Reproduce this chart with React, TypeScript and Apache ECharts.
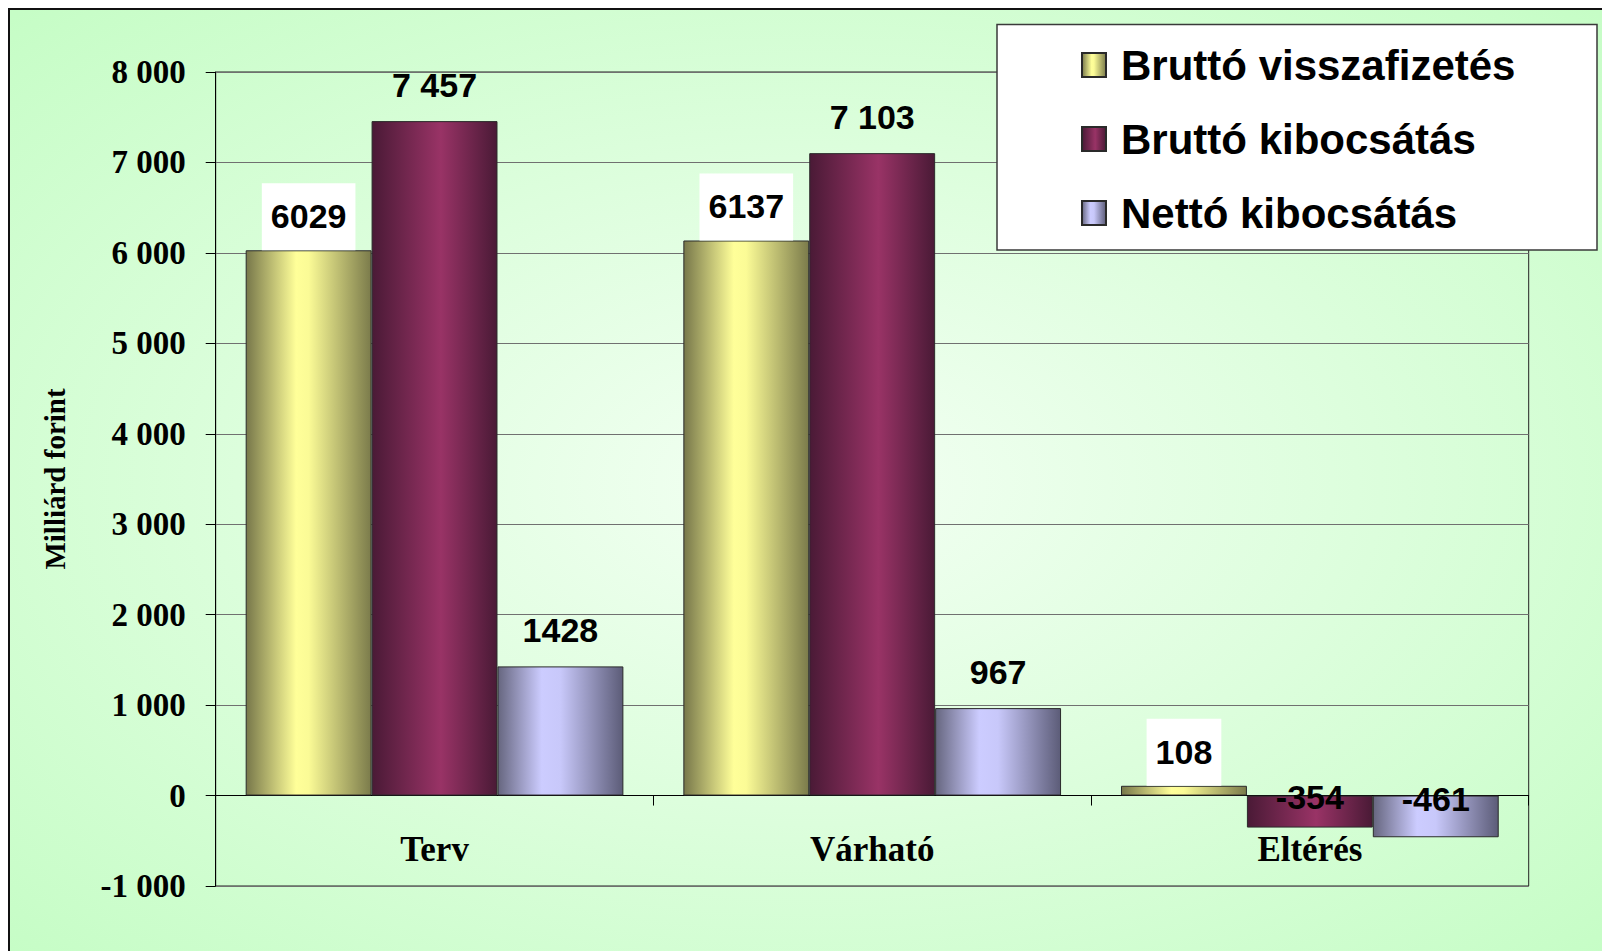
import React, { useEffect, useRef } from "react";
import * as echarts from "echarts";

const categories = ["Terv", "Várható", "Eltérés"];
const seriesNames = ["Bruttó visszafizetés", "Bruttó kibocsátás", "Nettó kibocsátás"];
const bruttoVisszafizetes = [6029, 6137, 108];
const bruttoKibocsatas = [7457, 7103, -354];
const nettoKibocsatas = [1428, 967, -461];
const yTicks = { min: -1000, max: 8000, interval: 1000 };
const yAxisName = "Milliárd forint";

const SANS = '"Liberation Sans", Arial, sans-serif';
const SERIF = '"Liberation Serif", "Times New Roman", serif';

const spaced = (v: number) => {
  const s = Math.abs(v).toString().replace(/\B(?=(\d{3})+(?!\d))/g, " ");
  return (v < 0 ? "-" : "") + s;
};

const grad = (stops: [number, string][]) =>
  new echarts.graphic.LinearGradient(
    0,
    0,
    1,
    0,
    stops.map(([offset, color]) => ({ offset, color }))
  );

const yellow = grad([
  [0, "#77774a"],
  [0.4, "#ffff99"],
  [0.5, "#fbfb96"],
  [1, "#7b7b4b"],
]);
const purple = grad([
  [0, "#4a1a36"],
  [0.55, "#993366"],
  [1, "#4a1a36"],
]);
const blue = grad([
  [0, "#66667f"],
  [0.35, "#ccccff"],
  [0.5, "#c8c8fa"],
  [1, "#5c5c78"],
]);

const labelBase = {
  show: true,
  fontFamily: SANS,
  fontWeight: "bold" as const,
  fontSize: 34,
  color: "#000",
};

const negLabel = (offsetY: number) => ({
  position: "inside",
  offset: [0, offsetY],
});

export default function App() {
  const ref = useRef<HTMLDivElement>(null);

  useEffect(() => {
    document.body.style.margin = "0";
    document.body.style.overflow = "hidden";
    if (!ref.current) return;
    const chart = echarts.init(ref.current, undefined, { renderer: "svg" });

    const option: any = {
      animation: false,
      backgroundColor: "#ffffff",
      graphic: [
        {
          type: "rect",
          z: -10,
          silent: true,
          shape: { x: 9, y: 9, width: 1600, height: 950 },
          style: {
            fill: new echarts.graphic.RadialGradient(0.5, 0.5, 0.7, [
              { offset: 0, color: "#f3fff3" },
              { offset: 1, color: "#c6fdc6" },
            ]),
            stroke: "#111",
            lineWidth: 2,
          },
        },
        {
          type: "rect",
          z: 10,
          silent: true,
          shape: { x: 997, y: 24.5, width: 600, height: 225.5 },
          style: { fill: "#ffffff", stroke: "#3a3a3a", lineWidth: 1.5 },
        },
      ],
      legend: {
        orient: "vertical",
        left: 1076,
        top: 39,
        z: 20,
        itemWidth: 24,
        itemHeight: 24,
        itemGap: 32,
        icon: "rect",
        data: seriesNames,
        textStyle: {
          fontFamily: SANS,
          fontWeight: "bold",
          fontSize: 42,
          color: "#000",
          padding: [0, 0, 0, 10],
        },
      },
      grid: {
        left: 215.7,
        top: 72,
        right: 73.3,
        bottom: 65,
        outerBoundsMode: "none",
        show: true,
        borderColor: "#222",
        borderWidth: 1,
        backgroundColor: "transparent",
      },
      xAxis: {
        type: "category",
        data: categories,
        axisLine: { show: true, onZero: true, lineStyle: { color: "#000", width: 1 } },
        axisTick: { show: true, length: 10, lineStyle: { color: "#000" } },
        axisLabel: {
          margin: -54,
          fontFamily: SERIF,
          fontWeight: "bold",
          fontSize: 35,
          color: "#000",
        },
      },
      yAxis: {
        type: "value",
        min: yTicks.min,
        max: yTicks.max,
        interval: yTicks.interval,
        name: yAxisName,
        nameLocation: "middle",
        nameRotate: 90,
        nameGap: 146,
        nameTextStyle: {
          fontFamily: SERIF,
          fontWeight: "bold",
          fontSize: 29,
          color: "#000",
        },
        axisLine: { show: true, lineStyle: { color: "#000", width: 1 } },
        axisTick: { show: true, length: 10, lineStyle: { color: "#000" } },
        axisLabel: {
          margin: 30,
          fontFamily: SERIF,
          fontWeight: "bold",
          fontSize: 33,
          color: "#000",
          formatter: (v: number) => spaced(v),
        },
        splitLine: { show: true, lineStyle: { color: "#707070", width: 1 } },
      },
      series: [
        {
          name: seriesNames[0],
          type: "bar",
          barGap: "0%",
          barCategoryGap: "13.7%",
          itemStyle: { color: yellow, borderColor: "#2a2a2a", borderWidth: 1 },
          label: {
            ...labelBase,
            position: "top",
            distance: 0,
            backgroundColor: "#ffffff",
            padding: [16, 9, 17, 9],
          },
          data: bruttoVisszafizetes,
        },
        {
          name: seriesNames[1],
          type: "bar",
          barGap: "0%",
          barCategoryGap: "13.7%",
          itemStyle: { color: purple, borderColor: "#2a2a2a", borderWidth: 1 },
          label: {
            ...labelBase,
            position: "top",
            distance: 19,
            formatter: (p: any) => spaced(p.value),
          },
          data: bruttoKibocsatas.map((v) =>
            v < 0 ? { value: v, label: negLabel(-15) } : v
          ),
        },
        {
          name: seriesNames[2],
          type: "bar",
          barGap: "0%",
          barCategoryGap: "13.7%",
          itemStyle: { color: blue, borderColor: "#2a2a2a", borderWidth: 1 },
          label: {
            ...labelBase,
            position: "top",
            distance: 19,
          },
          data: nettoKibocsatas.map((v) =>
            v < 0 ? { value: v, label: negLabel(-17) } : v
          ),
        },
      ],
    };

    chart.setOption(option);
    return () => chart.dispose();
  }, []);

  return <div ref={ref} style={{ width: 1602, height: 951 }} />;
}
